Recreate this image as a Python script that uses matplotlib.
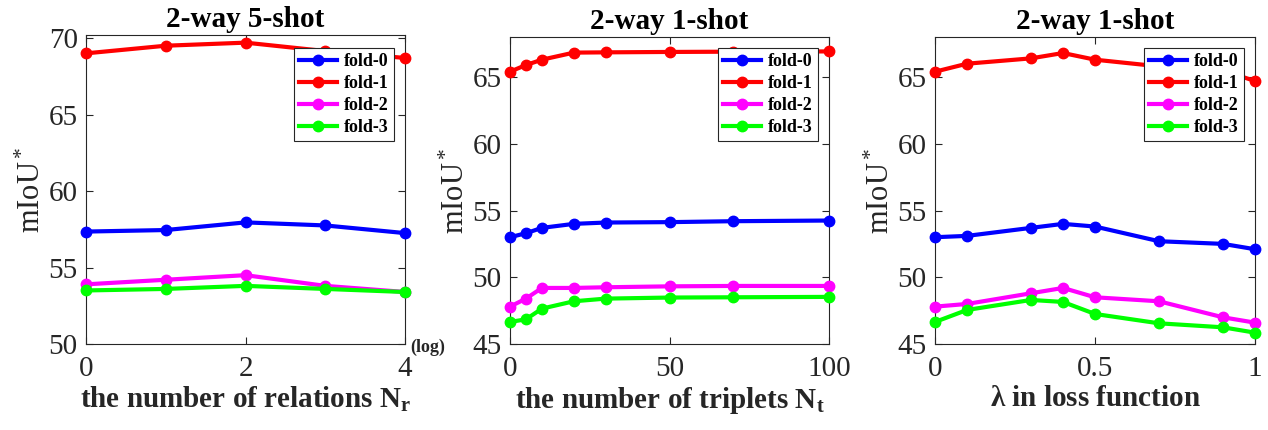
import matplotlib
matplotlib.use("Agg")
import matplotlib.pyplot as plt

plt.rcParams['font.family'] = ['Liberation Serif', 'DejaVu Serif']
plt.rcParams['mathtext.fontset'] = 'custom'
plt.rcParams['mathtext.rm'] = 'Liberation Serif'
plt.rcParams['mathtext.it'] = 'Liberation Serif:italic'
plt.rcParams['mathtext.bf'] = 'Liberation Serif:bold'

series_names = ['fold-0', 'fold-1', 'fold-2', 'fold-3']
colors = ['#0000ff', '#ff0000', '#ff00ff', '#00ff00']

# Panel 1: number of relations (log)
x1 = [0, 1, 2, 3, 4]
p1_fold0 = [57.35, 57.45, 57.95, 57.75, 57.25]
p1_fold1 = [69.0, 69.5, 69.7, 69.15, 68.7]
p1_fold2 = [53.9, 54.2, 54.5, 53.8, 53.4]
p1_fold3 = [53.5, 53.6, 53.8, 53.6, 53.4]

# Panel 2: number of triplets
x2 = [0, 5, 10, 20, 30, 50, 70, 100]
p2_fold0 = [53.0, 53.3, 53.7, 54.0, 54.1, 54.13, 54.2, 54.25]
p2_fold1 = [65.4, 65.9, 66.3, 66.83, 66.85, 66.88, 66.9, 66.92]
p2_fold2 = [47.8, 48.4, 49.2, 49.2, 49.25, 49.32, 49.35, 49.35]
p2_fold3 = [46.65, 46.85, 47.65, 48.2, 48.4, 48.48, 48.5, 48.53]

# Panel 3: lambda
x3 = [0, 0.1, 0.3, 0.4, 0.5, 0.7, 0.9, 1.0]
p3_fold0 = [53.0, 53.1, 53.7, 54.0, 53.8, 52.7, 52.5, 52.1]
p3_fold1 = [65.4, 66.0, 66.4, 66.8, 66.3, 65.8, 65.5, 64.7]
p3_fold2 = [47.8, 48.0, 48.8, 49.2, 48.5, 48.2, 47.0, 46.6]
p3_fold3 = [46.65, 47.55, 48.3, 48.15, 47.25, 46.55, 46.25, 45.85]

titles = ['2-way 5-shot', '2-way 1-shot', '2-way 1-shot']
xlabels = [r'the number of relations N$_\mathbf{r}$',
           r'the number of triplets N$_\mathbf{t}$',
           r'$\mathbf{\lambda}$ in loss function']
xticks = [[0, 2, 4], [0, 50, 100], [0, 0.5, 1]]
xticklabels = [['0', '2', '4'], ['0', '50', '100'], ['0', '0.5', '1']]
yticks = [[50, 55, 60, 65, 70], [45, 50, 55, 60, 65], [45, 50, 55, 60, 65]]
ylims = [(50, 70.2), (45, 68), (45, 68)]
xlims = [(0, 4), (0, 100), (0, 1)]

panels = [
    (x1, [p1_fold0, p1_fold1, p1_fold2, p1_fold3]),
    (x2, [p2_fold0, p2_fold1, p2_fold2, p2_fold3]),
    (x3, [p3_fold0, p3_fold1, p3_fold2, p3_fold3]),
]

W, H = 1268, 430
fig = plt.figure(figsize=(W / 100, H / 100), dpi=100)
boxes = [(86, 405, 35, 344), (510, 829, 37, 344), (935, 1255, 37, 344)]
dark = '#262626'

for i, ((x, ys), (l, r, t, b)) in enumerate(zip(panels, boxes)):
    ax = fig.add_axes([l / W, 1 - b / H, (r - l) / W, (b - t) / H])
    for name, y, c in zip(series_names, ys, colors):
        ax.plot(x, y, '-o', color=c, lw=3, ms=7.5, label=name, clip_on=False, zorder=3)
    ax.set_xlim(*xlims[i])
    ax.set_ylim(*ylims[i])
    ax.set_xticks(xticks[i])
    ax.set_xticklabels(xticklabels[i])
    ax.set_yticks(yticks[i])
    ax.tick_params(axis='both', direction='in', top=True, right=True, labelsize=21,
                   length=5, width=0.8, colors=dark)
    ax.tick_params(axis='x', pad=9)
    ax.tick_params(axis='y', pad=6)
    for s in ax.spines.values():
        s.set_color(dark)
        s.set_linewidth(0.8)
    ax.set_title(titles[i], fontsize=21, fontweight='bold', pad=6)
    ax.set_xlabel(xlabels[i], fontsize=21, fontweight='bold', labelpad=2, color=dark)
    ax.set_ylabel(r'mIoU$^*$', fontsize=22, color=dark, labelpad=1)
    leg = ax.legend(loc='upper right', bbox_to_anchor=((r - 11) / W, 1 - 48 / H),
                    bbox_transform=fig.transFigure,
                    prop={'weight': 'bold', 'size': 13}, fancybox=False,
                    edgecolor=dark, framealpha=1, handlelength=2.1,
                    borderpad=0.28, labelspacing=0.28, handletextpad=0.4,
                    borderaxespad=0.0)
    leg.get_frame().set_linewidth(0.8)
    leg.set_zorder(5)
    if i == 0:
        ax.text(1.015, -0.01, '(log)', transform=ax.transAxes, fontsize=13,
                fontweight='bold', ha='left', va='center', color=dark)

fig.savefig('out.png', dpi=100)
